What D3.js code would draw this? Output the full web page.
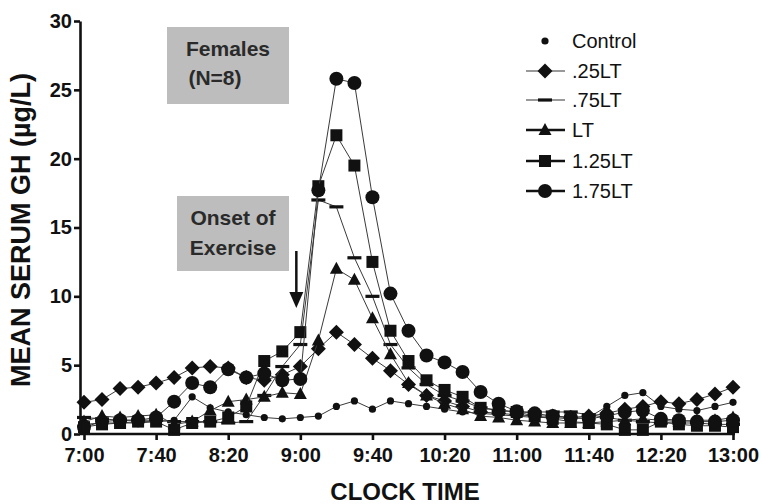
<!DOCTYPE html>
<html>
<head>
<meta charset="utf-8">
<script src="https://cdn.jsdelivr.net/npm/d3@7"></script>
<style>
  body { margin: 0; background: #fff; }
  text { font-family: "Liberation Sans", Arial, sans-serif; }
</style>
</head>
<body>
<div id="chart"></div>
<script>
/* Sample times (clock) */
var times = ["7:00","7:10","7:20","7:30","7:40","7:50","8:00","8:10","8:20","8:30",
             "8:40","8:50","9:00","9:10","9:20","9:30","9:40","9:50","10:00","10:10",
             "10:20","10:30","10:40","10:50","11:00","11:10","11:20","11:30","11:40","11:50",
             "12:00","12:10","12:20","12:30","12:40","12:50","13:00"];

/* Tick labels on the time axis */
var tickLabels = ["7:00","7:40","8:20","9:00","9:40","10:20","11:00","11:40","12:20","13:00"];
var yTicks = [0, 5, 10, 15, 20, 25, 30];

/* Mean serum GH (ug/L), one value per sample time */
var control = [0.7,0.8,0.8,0.8,0.9,1.0,2.7,1.9,1.6,1.4, 1.2,1.1,1.2,1.3,2.0,2.4,1.8,2.4,2.2,2.0,
               1.8,1.6,1.5,1.4,1.3,1.2,1.2,1.1,1.2,2.0, 2.8,3.0,2.0,1.8,1.7,2.0,2.3];
var lt025   = [2.3,2.5,3.3,3.4,3.7,4.1,4.8,4.9,4.8,4.1, 3.9,4.3,4.9,6.2,7.4,6.5,5.5,4.6,3.6,2.8,
               2.4,2.0,1.6,1.5,1.4,1.3,1.3,1.2,1.3,1.5, 1.8,2.0,2.35,2.2,2.5,2.9,3.4];
var lt075   = [1.2,1.1,1.0,1.0,1.0,0.9,0.9,0.9,0.8,0.9, 2.8,4.9,6.5,17.0,16.5,12.8,10.0,6.5,4.8,3.6,
               2.8,2.4,1.9,1.7,1.6,1.6,1.6,1.6,1.4,1.2, 1.0,0.9,0.8,0.8,0.8,0.7,0.7];
var lt100   = [0.9,1.3,1.2,1.3,1.4,0.7,0.9,1.7,2.35,2.5, 2.7,3.0,2.9,6.8,12.0,11.2,8.4,5.8,3.7,2.8,
               2.2,1.8,1.3,1.2,1.0,0.9,0.8,0.8,0.8,0.9, 1.0,1.1,1.0,0.9,1.0,1.0,1.2];
var lt125   = [0.5,0.7,0.8,0.9,0.9,0.3,0.8,0.9,1.2,2.0, 5.3,6.0,7.4,18.0,21.7,19.5,12.5,7.5,5.3,3.9,
               3.2,2.7,1.9,1.75,1.6,1.3,1.1,0.9,0.8,0.7, 0.3,0.3,0.9,0.7,0.6,0.6,0.5];
var lt175   = [0.5,0.9,1.0,1.0,1.2,2.35,3.7,3.4,4.7,4.1, 4.4,3.9,4.0,17.7,25.8,25.5,17.2,10.2,7.5,5.7,
               5.2,4.5,3.05,2.2,1.65,1.5,1.3,1.2,1.1,1.3, 1.6,1.7,1.1,1.0,0.9,0.9,1.0];

var seriesNames = ["Control", ".25LT", ".75LT", "LT", "1.25LT", "1.75LT"];
var seriesValues = [control, lt025, lt075, lt100, lt125, lt175];
var seriesMarks = ["dot", "diamond", "dash", "triangle", "square", "circle"];

var width = 761, height = 504;

function minutes (t) {
    var p = t.split(":");
    return (+p[0] - 7) * 60 + (+p[1]);
}

var x = d3.scaleLinear().domain([0, 360]).range([84, 733]);
var y = d3.scaleLinear().domain([0, 30]).range([434, 21]);

var svg = d3.select("#chart")
    .append("svg")
    .attr("width", width)
    .attr("height", height);

/* Draws one marker of the given kind into a group */
function marker (g, kind) {
    if (kind == "dot") {
        g.append("circle").attr("r", 3.6).attr("fill", "#111");
    } else if (kind == "circle") {
        g.append("circle").attr("r", 7).attr("fill", "#111");
    } else if (kind == "diamond") {
        g.append("path").attr("d", "M0,-7.5L7.5,0L0,7.5L-7.5,0Z").attr("fill", "#111");
    } else if (kind == "square") {
        g.append("rect").attr("x", -6).attr("y", -6).attr("width", 12).attr("height", 12).attr("fill", "#111");
    } else if (kind == "triangle") {
        g.append("path").attr("d", "M0,-7L6.5,5L-6.5,5Z").attr("fill", "#111");
    } else if (kind == "dash") {
        g.append("rect").attr("x", -7).attr("y", -1.6).attr("width", 14).attr("height", 3.2).attr("fill", "#111");
    }
}

/* Grey annotation boxes */
var notes = svg.append("g").attr("id", "notes");
notes.append("rect").attr("x", 167).attr("y", 27).attr("width", 122).attr("height", 77).attr("fill", "#bdbdbd");
notes.append("text").attr("x", 228).attr("y", 56).attr("text-anchor", "middle")
    .attr("font-size", 21).attr("font-weight", "bold").attr("fill", "#2a2a2a").text("Females");
notes.append("text").attr("x", 215).attr("y", 85).attr("text-anchor", "middle")
    .attr("font-size", 21).attr("font-weight", "bold").attr("fill", "#2a2a2a").text("(N=8)");

notes.append("rect").attr("x", 177).attr("y", 196).attr("width", 112).attr("height", 75).attr("fill", "#bdbdbd");
notes.append("text").attr("x", 233).attr("y", 225).attr("text-anchor", "middle")
    .attr("font-size", 21).attr("font-weight", "bold").attr("fill", "#2a2a2a").text("Onset of");
notes.append("text").attr("x", 233).attr("y", 255).attr("text-anchor", "middle")
    .attr("font-size", 21).attr("font-weight", "bold").attr("fill", "#2a2a2a").text("Exercise");

/* Arrow marking the onset of exercise */
var ax = x(minutes("9:00")) - 4;
notes.append("line").attr("x1", ax).attr("x2", ax).attr("y1", 251).attr("y2", 295)
    .attr("stroke", "#111").attr("stroke-width", 2.5);
notes.append("path").attr("d", "M" + (ax - 7) + ",292L" + (ax + 7) + ",292L" + ax + ",308Z").attr("fill", "#111");

/* Series: thin connecting lines then markers */
var line = d3.line()
    .x(function (d, i) { return x(minutes(times[i])); })
    .y(function (d) { return y(d); });

var plot = svg.append("g").attr("id", "series");
seriesValues.forEach(function (vals, k) {
    plot.append("path")
        .attr("d", line(vals))
        .attr("fill", "none")
        .attr("stroke", "#3a3a3a")
        .attr("stroke-width", 1);
    plot.selectAll(null)
        .data(vals)
        .enter()
        .append("g")
        .attr("transform", function (d, i) { return "translate(" + x(minutes(times[i])) + "," + y(d) + ")"; })
        .each(function () { marker(d3.select(this), seriesMarks[k]); });
});

/* Axes */
var yAxis = svg.append("g")
    .attr("transform", "translate(80,0)")
    .call(d3.axisLeft(y).tickValues(yTicks).tickSize(6).tickSizeOuter(0).tickPadding(2));
var xAxis = svg.append("g")
    .attr("transform", "translate(0,434)")
    .call(d3.axisBottom(x).tickValues(tickLabels.map(minutes)).tickSize(6).tickSizeOuter(0).tickPadding(8)
        .tickFormat(function (d, i) { return tickLabels[i]; }));
xAxis.select(".domain").attr("d", "M80,0H735");

[yAxis, xAxis].forEach(function (a) {
    a.selectAll(".domain, .tick line").attr("stroke", "#111").attr("stroke-width", 2.6);
    a.selectAll("text").attr("fill", "#111").attr("font-size", 20).attr("font-weight", "bold")
        .attr("font-family", "'Liberation Sans', Arial, sans-serif");
});

/* Axis titles */
svg.append("text")
    .attr("transform", "translate(30,230) rotate(-90)")
    .attr("text-anchor", "middle")
    .attr("font-size", 27).attr("font-weight", "bold").attr("fill", "#111")
    .text("MEAN SERUM GH (\u00b5g/L)");
svg.append("text")
    .attr("x", 405).attr("y", 500)
    .attr("text-anchor", "middle")
    .attr("font-size", 24).attr("font-weight", "bold").attr("fill", "#111")
    .text("CLOCK TIME");

/* Legend */
var legend = svg.append("g").attr("id", "legend");
var legendY = [41, 71, 100, 130, 161, 191];
seriesNames.forEach(function (name, k) {
    var row = legend.append("g").attr("transform", "translate(545," + legendY[k] + ")");
    if (k > 0) {
        row.append("line").attr("x1", -19).attr("x2", 20)
            .attr("stroke", k < 3 ? "#777" : "#111").attr("stroke-width", k < 3 ? 1.5 : 2.5);
    }
    marker(row, seriesMarks[k]);
    row.append("text").attr("x", 27).attr("dy", "0.35em")
        .attr("font-size", 20).attr("fill", "#111").text(name);
});
</script>
</body>
</html>
